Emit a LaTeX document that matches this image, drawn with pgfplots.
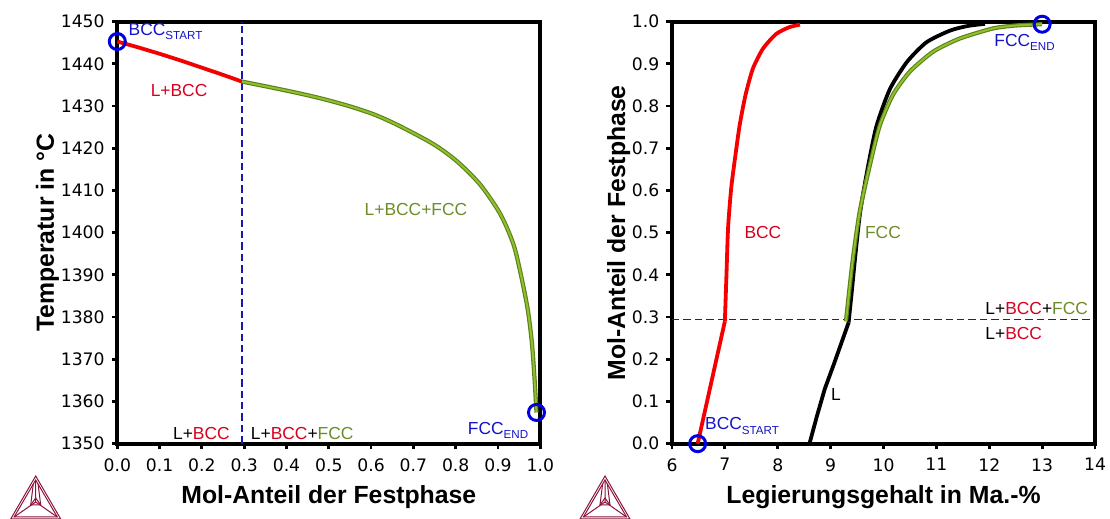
\documentclass[border=0pt]{standalone}
\usepackage{fontspec}
\setmainfont{Liberation Sans}
\newfontfamily\dejavu{DejaVu Sans}
\usepackage{pgfplots}
\pgfplotsset{compat=1.18}
\definecolor{bccred}{RGB}{245,0,0}
\definecolor{bcctext}{RGB}{215,0,30}
\definecolor{fccdark}{RGB}{95,125,25}
\definecolor{fcclight}{RGB}{140,195,45}
\definecolor{fcctext}{RGB}{110,140,40}
\definecolor{myblue}{RGB}{0,0,225}
\definecolor{labblue}{RGB}{20,20,200}
\definecolor{dashblue}{RGB}{25,25,175}
\definecolor{logo}{RGB}{140,20,60}
\newcommand\sub[1]{\raisebox{-0.45ex}{\fontsize{5.8}{6}\selectfont #1}}
\newcommand\lab{\fontsize{8.7}{10}\selectfont}
\pgfplotsset{mystyle/.style={
  scale only axis, clip=false,
  axis line style={line width=2pt},
  xtick pos=bottom, ytick pos=left, tick align=outside,
  major tick length=2.8pt, tick style={line width=1.4pt, black},
  tick label style={font=\dejavu\fontsize{8.6}{10}\selectfont},
  /pgf/number format/assume math mode=true,
  label style={font=\bfseries\fontsize{12.4}{14}\selectfont},
  xticklabel style={yshift=-1pt},
  ylabel shift=-6pt,
}}
\newcommand\logoat[2]{%
  \begin{scope}[shift={(#1,#2)}, draw=logo, line width=0.5pt]
    \draw (0,0) -- (-12.5pt,-21.5pt) -- (12.5pt,-21.5pt) -- cycle;
    \draw (0,-2pt) -- (-10.8pt,-20.5pt) -- (10.8pt,-20.5pt) -- cycle;
    \draw (0,-2pt) -- (0,-13pt) -- (-10.8pt,-20.5pt);
    \draw (0,-13pt) -- (10.8pt,-20.5pt);
    \draw (-2.5pt,-14.5pt) -- (0,-11pt) -- (2.5pt,-14.5pt) -- cycle;
    \draw (-1.2pt,-4pt) -- (-2.5pt,-14.5pt);
    \draw (1.2pt,-4pt) -- (2.5pt,-14.5pt);
  \end{scope}}
\begin{document}
\begin{tikzpicture}
\useasboundingbox (0,0) rectangle (555pt,259.5pt);
% ---------------- left ----------------
\begin{axis}[mystyle, at={(58.65pt,37.65pt)}, anchor=south west,
  width=211.5pt, height=211pt,
  xmin=0, xmax=1, ymin=1350, ymax=1450,
  xtick={0,0.1,0.2,0.3,0.4,0.5,0.6,0.7,0.8,0.9,1.0},
  ytick={1350,1360,1370,1380,1390,1400,1410,1420,1430,1440,1450},
  xticklabel style={/pgf/number format/.cd, fixed, fixed zerofill, precision=1},
  yticklabel style={/pgf/number format/.cd, 1000 sep={}},
  xlabel={Mol-Anteil der Festphase},
  ylabel={Temperatur in °C},
]
\addplot[dashblue, line width=0.8pt, dash pattern=on 3.7pt off 2pt] coordinates {(0.295,1350) (0.295,1450)};
\addplot[bccred, line width=1.9pt] coordinates {
(0.0,1445.3) (0.05,1443.9) (0.1,1442.4) (0.15,1440.8) (0.2,1439.1) (0.25,1437.4) (0.295,1435.8)};
\pgfplotstableread{
x y
0.295 1435.8
0.36 1434.5
0.431 1433.0
0.49 1431.6
0.551 1429.9
0.61 1427.9
0.669 1425.2
0.747 1421.0
0.802 1417.0
0.857 1411.5
0.905 1404.5
0.936 1397.4
0.952 1391.0
0.97 1382.0
0.98 1374.0
0.986 1366.0
0.991 1357.4
}\leftfcc
\addplot[fccdark, line width=2.1pt, smooth, tension=0.5] table[x=x,y=y] {\leftfcc};
\addplot[fcclight, line width=1.0pt, smooth, tension=0.5] table[x=x,y=y] {\leftfcc};
\addplot[myblue, only marks, mark=o, mark size=4pt, mark options={line width=1.5pt}] coordinates {(0.0,1445.3) (0.991,1357.4)};
\node[anchor=west, labblue, font=\lab, inner sep=0pt] at (axis cs:0.026,1447.6) {BCC\sub{START}};
\node[bcctext, font=\lab] at (axis cs:0.146,1433.8) {L+BCC};
\node[fcctext, font=\lab] at (axis cs:0.706,1405.5) {L+BCC+FCC};
\node[anchor=west, font=\lab, inner sep=0pt] at (axis cs:0.131,1352.5) {L+\textcolor{bcctext}{BCC}};
\node[anchor=west, font=\lab, inner sep=0pt] at (axis cs:0.315,1352.5) {L+\textcolor{bcctext}{BCC}+\textcolor{fcctext}{FCC}};
\node[anchor=west, labblue, font=\lab, inner sep=0pt] at (axis cs:0.828,1353.2) {FCC\sub{END}};
\end{axis}
% ---------------- right ----------------
\begin{axis}[mystyle, at={(336pt,37.65pt)}, anchor=south west,
  width=211.5pt, height=211pt,
  xmin=6, xmax=14, ymin=0, ymax=1,
  xtick={6,7,8,9,10,11,12,13,14},
  ytick={0,0.1,0.2,0.3,0.4,0.5,0.6,0.7,0.8,0.9,1.0},
  yticklabel style={/pgf/number format/.cd, fixed, fixed zerofill, precision=1},
  xlabel={Legierungsgehalt in Ma.-\%},
  ylabel={Mol-Anteil der Festphase},
]
\addplot[dashblue, line width=0.8pt, dash pattern=on 3.7pt off 2pt] coordinates {(6,0.294) (14,0.294)};
\addplot[bccred, line width=1.9pt] coordinates {(6.485,0.0) (7.0,0.29)};
\addplot[bccred, line width=1.9pt, smooth, tension=0.4] coordinates {
(7.0,0.29) (7.03,0.40) (7.06,0.51) (7.12,0.606) (7.20,0.684) (7.28,0.755) (7.39,0.826) (7.53,0.889) (7.72,0.936) (7.97,0.971) (8.22,0.987) (8.42,0.993)};
\addplot[black, line width=1.9pt] coordinates {
(8.60,0) (8.74,0.065) (8.89,0.13) (9.06,0.188) (9.34,0.287)};
\addplot[black, line width=1.9pt, smooth, tension=0.4] coordinates {
(9.34,0.287) (9.40,0.36) (9.46,0.437) (9.56,0.55) (9.71,0.659) (9.87,0.754) (10.12,0.84) (10.44,0.904) (10.81,0.951) (11.26,0.979) (11.6,0.99) (11.92,0.995)};
\pgfplotstableread{
x y
9.29 0.29
9.35 0.36
9.42 0.437
9.55 0.55
9.74 0.659
9.93 0.754
10.18 0.827
10.50 0.882
10.94 0.929
11.44 0.960
12.07 0.984
12.5 0.991
13.0 0.994
}\rightfcc
\addplot[fccdark, line width=2.1pt, smooth, tension=0.4] table[x=x,y=y] {\rightfcc};
\addplot[fcclight, line width=1.0pt, smooth, tension=0.4] table[x=x,y=y] {\rightfcc};
\addplot[myblue, only marks, mark=o, mark size=4pt, mark options={line width=1.5pt}] coordinates {(6.485,0.0) (13.0,0.994)};
\node[anchor=west, labblue, font=\lab, inner sep=0pt] at (axis cs:6.62,0.042) {BCC\sub{START}};
\node[bcctext, font=\lab] at (axis cs:7.72,0.5) {BCC};
\node[fcctext, font=\lab] at (axis cs:9.99,0.5) {FCC};
\node[font=\lab] at (axis cs:9.10,0.117) {L};
\node[anchor=west, labblue, font=\lab, inner sep=0pt] at (axis cs:12.09,0.951) {FCC\sub{END}};
\node[anchor=west, font=\lab, inner sep=0pt] at (axis cs:11.92,0.32) {L+\textcolor{bcctext}{BCC}+\textcolor{fcctext}{FCC}};
\node[anchor=west, font=\lab, inner sep=0pt] at (axis cs:11.92,0.262) {L+\textcolor{bcctext}{BCC}};
\end{axis}
\logoat{17.85pt}{21.5pt}
\logoat{302.5pt}{21.5pt}
\end{tikzpicture}
\end{document}
